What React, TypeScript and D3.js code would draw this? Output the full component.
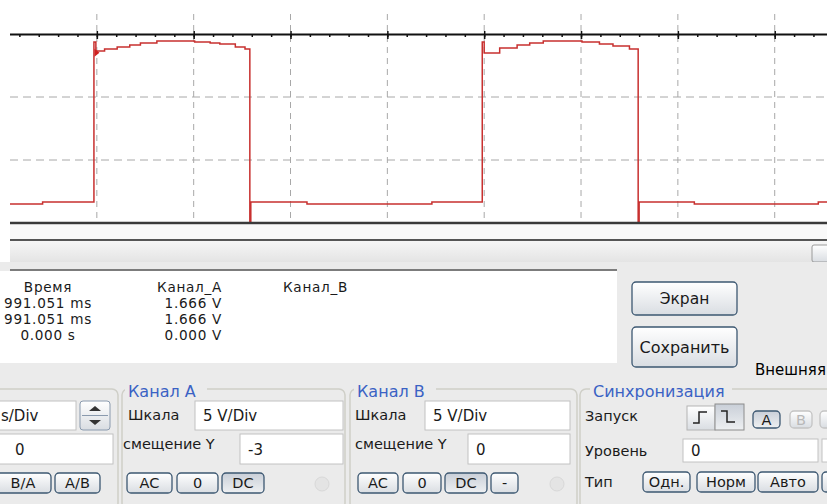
import * as d3 from 'd3';
import React, { useEffect, useRef } from 'react';

// Channel A trace: time in divisions, voltage in volts (5 V/Div, offset -3)
const timeDiv = [0, 0.44, 0.97, 0.99, 1.08, 1.21, 1.34, 1.45, 1.62, 2.01, 2.17, 2.27, 2.43, 2.53, 2.58, 2.59, 3.17, 4.46, 4.98, 5.0, 5.16, 5.34, 5.47, 5.61, 6.01, 6.19, 6.33, 6.5, 6.59, 6.6, 7.17, 8.45, 8.54];
const channelA = [1.51, 1.67, 14.37, 13.65, 13.81, 13.97, 14.13, 14.29, 14.44, 14.37, 14.29, 14.21, 13.97, 13.81, 0, 1.67, 1.51, 1.67, 14.37, 13.49, 13.89, 14.13, 14.29, 14.44, 14.37, 14.21, 14.05, 13.81, 0, 1.67, 1.51, 1.67, 1.67];

const gridDivs = [1, 2, 3, 4, 5, 6, 7, 8];
const gridVolts = [5, 10];
const axisVolt = 15;

// cursor readout table
const readHeaders = ['Время', 'Канал_А', 'Канал_В'];
const readTime = ['991.051 ms', '991.051 ms', '0.000 s'];
const readChA = ['1.666 V', '1.666 V', '0.000 V'];

const FONT = "'DejaVu Sans', Verdana, sans-serif";
const W = 827;
const H = 504;

const Btn = ({ x, y, w, h, label, pressed = false, disabled = false, fs = 14.5 }) => (
  <g>
    <rect x={x} y={y} width={w} height={h} rx={4}
      fill={pressed ? 'url(#gPressed)' : 'url(#gBtn)'}
      stroke={disabled ? '#c4c4c4' : '#3d5872'} strokeWidth={1.3} />
    <text x={x + w / 2} y={y + h / 2 + fs * 0.36} textAnchor="middle" fontSize={fs}
      fill={disabled ? '#b8b8b8' : '#1a1a1a'}>{label}</text>
  </g>
);

const Field = ({ x, y, w, h, text = '', tx = 8 }) => (
  <g>
    <rect x={x} y={y} width={w} height={h} fill="#fff" stroke="#c2c2c2" strokeWidth={1} />
    <text x={x + tx} y={y + h / 2 + 5.5} fontSize={15} fill="#1a1a1a">{text}</text>
  </g>
);

const Group = ({ x, y, w, h, title = '', tx = 0, tw = 0 }) => (
  <g>
    <rect x={x} y={y} width={w} height={h} rx={6} fill="none" stroke="#cfcfc8" strokeWidth={1.5} />
    {title && <rect x={tx - 3} y={y - 4} width={tw + 6} height={8} fill="#ebebeb" />}
    {title && <text x={tx} y={y + 8} fontSize={16} fill="#3a62c4">{title}</text>}
  </g>
);

const Label = ({ x, y, text }) => (
  <text x={x} y={y} fontSize={14.5} fill="#1a1a1a">{text}</text>
);

export default function App() {
  const axisRef = useRef(null);

  const x = d3.scaleLinear().domain([0, 8.54]).range([0, W]);
  const y = d3.scaleLinear().domain([0, 15]).range([223, 34]);

  const pts = timeDiv.map((t, i) => [t, channelA[i]]);
  const trace = d3.line().x(d => x(d[0])).y(d => y(d[1])).curve(d3.curveStepAfter)(pts);

  useEffect(() => {
    const g = d3.select(axisRef.current);
    g.selectAll('*').remove();
    const minor = d3.range(0, 8.6, 0.2);
    g.append('g')
      .call(d3.axisBottom(x).tickValues(minor).tickSize(3).tickSizeOuter(0).tickFormat(() => ''))
      .call(s => s.select('.domain').attr('stroke', '#111').attr('stroke-width', 2));
    g.append('g')
      .call(d3.axisTop(x).tickValues(gridDivs).tickSize(3).tickSizeOuter(0).tickFormat(() => ''))
      .call(s => s.select('.domain').remove());
    g.append('g')
      .call(d3.axisBottom(x).tickValues(gridDivs).tickSize(5).tickSizeOuter(0).tickFormat(() => ''))
      .call(s => s.select('.domain').remove());
    g.selectAll('.tick line').attr('stroke', '#111').attr('stroke-width', 1.5);
  }, []);

  return (
    <div style={{ position: 'absolute', left: 0, top: 0 }}>
      <svg width={W} height={H} style={{ fontFamily: FONT, display: 'block' }}>
        <defs>
          <linearGradient id="gBtn" x1="0" y1="0" x2="0" y2="1">
            <stop offset="0" stopColor="#ffffff" />
            <stop offset="1" stopColor="#d9dde2" />
          </linearGradient>
          <linearGradient id="gPressed" x1="0" y1="0" x2="0" y2="1">
            <stop offset="0" stopColor="#c9cfd8" />
            <stop offset="1" stopColor="#eef0f2" />
          </linearGradient>
          <linearGradient id="gTrack" x1="0" y1="0" x2="0" y2="1">
            <stop offset="0" stopColor="#f6f6f6" />
            <stop offset="1" stopColor="#e4e4e4" />
          </linearGradient>
          <clipPath id="plotClip">
            <rect x={10} y={0} width={W - 10} height={225} />
          </clipPath>
        </defs>

        <rect width={W} height={H} fill="#ffffff" />

        {/* scope screen */}
        <g clipPath="url(#plotClip)">
          {gridDivs.map(d => (
            <line key={'v' + d} x1={x(d)} x2={x(d)} y1={14} y2={223}
              stroke="#a8a8a8" strokeWidth={1} strokeDasharray="6,5" />
          ))}
          {gridVolts.map(v => (
            <line key={'h' + v} x1={10} x2={W} y1={y(v)} y2={y(v)}
              stroke="#a8a8a8" strokeWidth={1} strokeDasharray="8,5" />
          ))}
          <g ref={axisRef} transform={`translate(0,${y(axisVolt)})`} />
          <path d={trace} fill="none" stroke="#c8302f" strokeWidth={1.5} />
          <path d={`M${x(0.975)},${y(13.2)} l5,-4 l-5,-4 z`} fill="#d02020" />
        </g>
        <line x1={10} x2={W} y1={y(0)} y2={y(0)} stroke="#3a3a3a" strokeWidth={2.5} />

        {/* strip and scroll bar */}
        <rect x={10} y={225} width={W - 10} height={15} fill="#f9f9f9" />
        <line x1={10} x2={W} y1={240} y2={240} stroke="#1e1e1e" strokeWidth={1.5} />
        <rect x={10} y={241} width={W - 10} height={21} fill="url(#gTrack)" />
        <rect x={812} y={245} width={20} height={17} rx={2} fill="url(#gBtn)" stroke="#9a9a9a" />

        {/* control panel */}
        <rect x={0} y={262} width={W} height={H - 262} fill="#ebebeb" />
        <rect x={0} y={271} width={617} height={92} fill="#ffffff" />
        <line x1={10} x2={617} y1={270} y2={270} stroke="#7c7c7c" strokeWidth={2} />

        <g fontSize={13.6} letterSpacing={0.7} fill="#1a1a1a">
          <text x={48} y={292} textAnchor="middle">{readHeaders[0]}</text>
          <text x={222} y={292} textAnchor="end">{readHeaders[1]}</text>
          <text x={283} y={292}>{readHeaders[2]}</text>
          {readTime.map((t, i) => (
            <text key={'t' + i} x={48} y={308 + i * 16} textAnchor="middle">{t}</text>
          ))}
          {readChA.map((t, i) => (
            <text key={'a' + i} x={222} y={308 + i * 16} textAnchor="end">{t}</text>
          ))}
        </g>

        <Btn x={632} y={282} w={105} h={33} label="Экран" fs={15.5} />
        <Btn x={632} y={327} w={105} h={40} label="Сохранить" fs={16} />
        <text x={755} y={375} fontSize={15}>Внешняя</text>

        {/* time base group */}
        <Group x={-8} y={389} w={126} h={120} />
        <Field x={-5} y={401} w={81} h={29} text="s/Div" tx={6} />
        <g>
          <rect x={80} y={401} width={30} height={29} rx={3} fill="url(#gBtn)" stroke="#8a9aae" />
          <line x1={82} x2={108} y1={415.5} y2={415.5} stroke="#8a9aae" />
          <path d="M89,411 l6,-5 l6,5 z" fill="#333" />
          <path d="M89,420 l6,5 l6,-5 z" fill="#333" />
        </g>
        <Field x={-5} y={434} w={118} h={30} text="0" tx={20} />
        <Btn x={-5} y={473} w={56} h={20} label="B/A" />
        <Btn x={55} y={473} w={45} h={20} label="A/B" />

        {/* channel A group */}
        <Group x={122} y={389} w={223} h={120} title="Канал А" tx={128} tw={76} />
        <Label x={128} y={420} text="Шкала" />
        <Field x={195} y={401} w={148} h={29} text="5  V/Div" />
        <Label x={123} y={449} text="смещение Y" />
        <Field x={240} y={434} w={103} h={30} text="-3" />
        <Btn x={127} y={473} w={45} h={20} label="AC" />
        <Btn x={177} y={473} w={41} h={20} label="0" />
        <Btn x={222} y={473} w={42} h={20} label="DC" pressed />
        <circle cx={322} cy={484} r={7} fill="#e4e4e4" stroke="#d8d8d8" />

        {/* channel B group */}
        <Group x={350} y={389} w={227} h={120} title="Канал В" tx={357} tw={76} />
        <Label x={355} y={420} text="Шкала" />
        <Field x={425} y={401} w={145} h={29} text="5  V/Div" />
        <Label x={355} y={449} text="смещение Y" />
        <Field x={468} y={434} w={102} h={30} text="0" />
        <Btn x={358} y={473} w={40} h={20} label="AC" />
        <Btn x={403} y={473} w={38} h={20} label="0" />
        <Btn x={445} y={473} w={42} h={20} label="DC" pressed />
        <Btn x={491} y={473} w={27} h={20} label="-" />
        <circle cx={557} cy={484} r={7} fill="#e4e4e4" stroke="#d8d8d8" />

        {/* trigger group */}
        <Group x={580} y={389} w={260} h={120} title="Синхронизация" tx={593} tw={136} />
        <Label x={585} y={421} text="Запуск" />
        <rect x={687} y={406} width={28} height={24} fill="url(#gBtn)" stroke="#b4b4b4" />
        <path d="M693,423 h6 v-11 h8" fill="none" stroke="#222" strokeWidth={1.5} />
        <rect x={715} y={404} width={29} height={26} fill="url(#gPressed)" stroke="#8c8c8c" />
        <path d="M721,411 h6 v11 h8" fill="none" stroke="#222" strokeWidth={1.5} />
        <Btn x={753} y={411} w={27} h={17} label="A" pressed />
        <Btn x={790} y={411} w={22} h={17} label="B" disabled />
        <Btn x={820} y={411} w={22} h={17} label="" disabled />
        <Label x={585} y={456} text="Уровень" />
        <Field x={683} y={439} w={135} h={23} text="0" />
        <Field x={822} y={439} w={20} h={23} />
        <Label x={585} y={487} text="Тип" />
        <Btn x={643} y={472} w={47} h={20} label="Одн." />
        <Btn x={697} y={472} w={58} h={20} label="Норм" />
        <Btn x={758} y={472} w={60} h={20} label="Авто" />
        <Btn x={822} y={472} w={20} h={20} label="" />
      </svg>
    </div>
  );
}
